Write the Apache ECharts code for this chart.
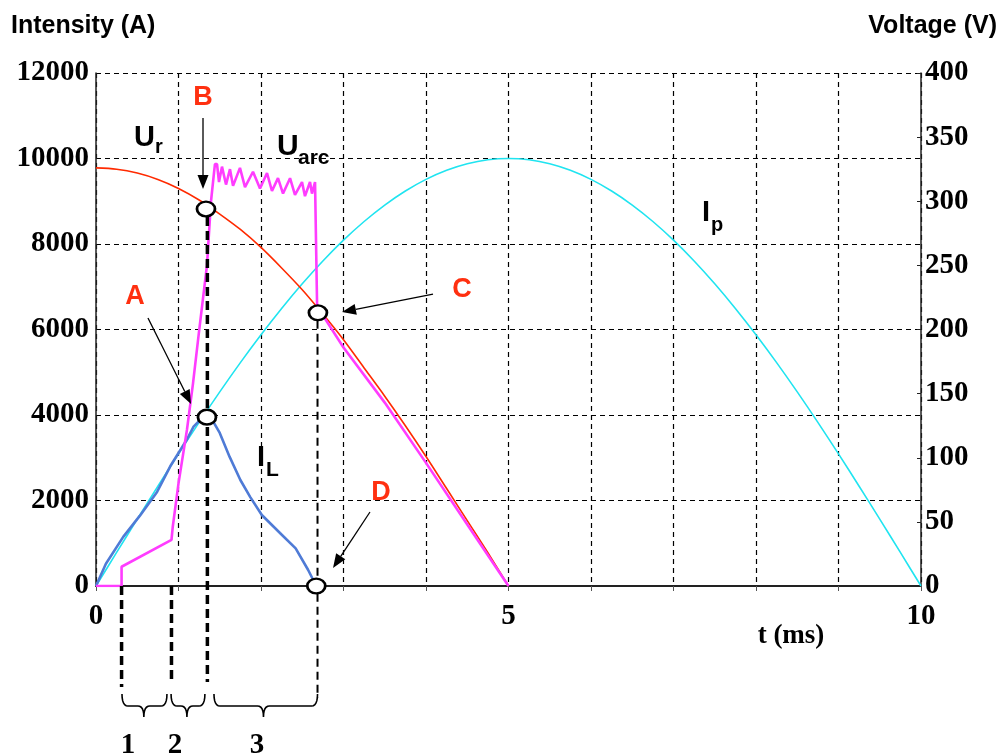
<!DOCTYPE html>
<html>
<head>
<meta charset="utf-8">
<title>Intensity and voltage during arc interruption</title>
<script src="https://cdn.jsdelivr.net/npm/echarts@6/dist/echarts.min.js"></script>
<style>
  html, body { margin: 0; padding: 0; background: #fff; }
  #chart { width: 1002px; height: 753px; }
</style>
</head>
<body>
<div id="chart"></div>
<script>
// time in ms, intensity in A, voltage in V
var timeTicks = [0, 5, 10];
var intensityTicks = [0, 2000, 4000, 6000, 8000, 10000, 12000];
var voltageTicks = [0, 50, 100, 150, 200, 250, 300, 350, 400];

// prospective current Ip
var ipTime = [0, 0.25, 0.5, 0.75, 1, 1.25, 1.5, 1.75, 2, 2.25, 2.5, 2.75, 3, 3.25, 3.5, 3.75, 4, 4.25, 4.5, 4.75,
  5, 5.25, 5.5, 5.75, 6, 6.25, 6.5, 6.75, 7, 7.25, 7.5, 7.75, 8, 8.25, 8.5, 8.75, 9, 9.25, 9.5, 9.75, 10];
var ipValues = [0, 785, 1564, 2334, 3090, 3827, 4540, 5225, 5878, 6494, 7071, 7604, 8090, 8526, 8910, 9239, 9511, 9724, 9877, 9969,
  10000, 9969, 9877, 9724, 9511, 9239, 8910, 8526, 8090, 7604, 7071, 6494, 5878, 5225, 4540, 3827, 3090, 2334, 1564, 785, 0];

// network voltage Ur
var urTime = [0, 0.25, 0.5, 0.75, 1, 1.25, 1.5, 1.75, 2, 2.25, 2.5, 2.75, 3, 3.25, 3.5, 3.75, 4, 4.25, 4.5, 4.75, 5];
var urValues = [326, 325, 322, 317, 310, 301, 290, 278, 264, 248, 231, 212, 192, 170, 148, 125, 101, 76, 51, 26, 0];

// limited current IL
var ilTime = [0, 0.12, 0.33, 0.53, 0.74, 0.9, 1.1, 1.18, 1.26, 1.32, 1.36, 1.41, 1.5, 1.62, 1.75, 1.87, 2.01, 2.23, 2.42, 2.57, 2.67];
var ilValues = [0, 520, 1150, 1640, 2200, 2800, 3420, 3720, 3880, 3950, 3960, 3880, 3580, 3020, 2480, 2080, 1660, 1240, 880, 380, 0];

// arc voltage Uarc
var uarcTime = [0, 0.31, 0.31, 0.915, 0.93, 1.0, 1.103, 1.176, 1.248, 1.345, 1.394, 1.43, 1.442, 1.467, 1.491, 1.527, 1.576,
  1.624, 1.661, 1.745, 1.806, 1.903, 1.988, 2.073, 2.133, 2.206, 2.267, 2.352, 2.412, 2.497, 2.533, 2.594, 2.618, 2.655,
  2.672, 2.68, 3.0, 3.5, 4.0, 4.5, 5.0];
var uarcValues = [0, 0, 15, 36, 46, 80, 122, 158, 198, 250, 300, 322, 329, 329, 315, 327, 313,
  325, 312, 326, 311, 323, 310, 322, 308, 318, 306, 318, 305, 315, 304, 315, 306, 315,
  315, 218, 186, 143, 96, 48, 0];

function pairs(xs, ys) {
  var out = [];
  for (var i = 0; i < xs.length; i++) out.push([xs[i], ys[i]]);
  return out;
}

var tickFont = '"Liberation Serif", "Times New Roman", serif';
var sansFont = '"Liberation Sans", Arial, sans-serif';
var gridLine = { show: true, lineStyle: { color: '#000', type: [5, 4], width: 1.2 } };

var chart = echarts.init(document.getElementById('chart'));

chart.setOption({
  animation: false,
  backgroundColor: '#fff',
  grid: { left: 96, right: 81, top: 73, bottom: 167 },
  xAxis: {
    type: 'value',
    min: timeTicks[0],
    max: timeTicks[timeTicks.length - 1],
    interval: 1,
    axisLine: { lineStyle: { color: '#222', width: 2 } },
    axisTick: { show: true, length: 5, lineStyle: { color: '#555' } },
    axisLabel: {
      margin: 16,
      color: '#000',
      fontFamily: tickFont,
      fontWeight: 'bold',
      fontSize: 29,
      formatter: function (v) { return timeTicks.indexOf(v) >= 0 ? String(v) : ''; }
    },
    splitLine: gridLine
  },
  yAxis: [
    {
      type: 'value',
      min: intensityTicks[0],
      max: intensityTicks[intensityTicks.length - 1],
      interval: intensityTicks[1] - intensityTicks[0],
      axisLine: { show: true, lineStyle: { color: '#222', width: 1.5 } },
      axisTick: { show: false },
      axisLabel: {
        margin: 7, color: '#000', fontFamily: tickFont, fontWeight: 'bold', fontSize: 29,
        formatter: function (v) { return String(v); }
      },
      splitLine: gridLine
    },
    {
      type: 'value',
      min: voltageTicks[0],
      max: voltageTicks[voltageTicks.length - 1],
      interval: voltageTicks[1] - voltageTicks[0],
      position: 'right',
      axisLine: { show: true, lineStyle: { color: '#222', width: 1.5 } },
      axisTick: { show: true, inside: true, length: 4, lineStyle: { color: '#222' } },
      axisLabel: {
        margin: 4, color: '#000', fontFamily: tickFont, fontWeight: 'bold', fontSize: 29,
        formatter: function (v) { return String(v); }
      },
      splitLine: { show: false }
    }
  ],
  series: [
    {
      name: 'Ip', type: 'line', yAxisIndex: 0, showSymbol: false, z: 2, smooth: 0.3,
      data: pairs(ipTime, ipValues),
      lineStyle: { color: '#20e4f0', width: 1.6 }
    },
    {
      name: 'Ur', type: 'line', yAxisIndex: 1, showSymbol: false, z: 3, smooth: 0.3,
      data: pairs(urTime, urValues),
      lineStyle: { color: '#ff2a00', width: 1.6 }
    },
    {
      name: 'IL', type: 'line', yAxisIndex: 0, showSymbol: false, z: 4,
      data: pairs(ilTime, ilValues),
      lineStyle: { color: '#4f7bd6', width: 2.6 }
    },
    {
      name: 'Uarc', type: 'line', yAxisIndex: 1, showSymbol: false, z: 5,
      data: pairs(uarcTime, uarcValues),
      lineStyle: { color: '#ff3cff', width: 2.6 }
    }
  ]
});

// pixel helpers through the chart's own scales
function pI(t, v) { return chart.convertToPixel({ seriesIndex: 0 }, [t, v]); }
function pV(t, v) { return chart.convertToPixel({ seriesIndex: 1 }, [t, v]); }

function arrow(from, to) {
  var dx = to[0] - from[0], dy = to[1] - from[1];
  var len = Math.sqrt(dx * dx + dy * dy);
  var ux = dx / len, uy = dy / len;
  var hl = 14, hw = 5.5;
  var bx = to[0] - ux * hl, by = to[1] - uy * hl;
  return [
    { type: 'line', z: 20, shape: { x1: from[0], y1: from[1], x2: bx, y2: by }, style: { stroke: '#000', lineWidth: 1.3 } },
    { type: 'polygon', z: 20, shape: { points: [to, [bx - uy * hw, by + ux * hw], [bx + uy * hw, by - ux * hw]] }, style: { fill: '#000' } }
  ];
}

function ring(p) {
  return {
    type: 'circle', z: 25, x: p[0], y: p[1], scaleY: 0.82,
    shape: { cx: 0, cy: 0, r: 9 },
    style: { fill: '#fff', stroke: '#000', lineWidth: 2.8 }
  };
}

function dashDown(t, topPt, yEnd, w) {
  var x = pI(t, 0)[0];
  return { type: 'line', z: 15, shape: { x1: x, y1: topPt, x2: x, y2: yEnd }, style: { stroke: '#000', lineWidth: w, lineDash: w > 2.5 ? [9, 5] : [8, 5] } };
}

// quadratic curve sampled into points
function quad(p0, c, p1, pts) {
  for (var i = 0; i <= 6; i++) {
    var s = i / 6, a = (1 - s) * (1 - s), b = 2 * s * (1 - s), d = s * s;
    pts.push([a * p0[0] + b * c[0] + d * p1[0], a * p0[1] + b * c[1] + d * p1[1]]);
  }
}

function brace(t1, t2, tm) {
  var x1 = pI(t1, 0)[0], x2 = pI(t2, 0)[0], xm = pI(tm, 0)[0];
  var y0 = 694, y1 = 706, y2 = 717, r = 6;
  var pts = [];
  quad([x1, y0], [x1, y1], [x1 + r, y1], pts);
  quad([xm - r, y1], [xm, y1], [xm, y2], pts);
  quad([xm, y2], [xm, y1], [xm + r, y1], pts);
  quad([x2 - r, y1], [x2, y1], [x2, y0], pts);
  return { type: 'polyline', z: 15, shape: { points: pts }, style: { fill: null, stroke: '#000', lineWidth: 1.6 } };
}

function label(text, x, y, size, opts) {
  opts = opts || {};
  return {
    type: 'text', z: 30, x: x, y: y,
    style: {
      text: text,
      fill: opts.color || '#000',
      font: 'bold ' + size + 'px ' + (opts.serif ? tickFont : sansFont),
      align: opts.align || 'left',
      verticalAlign: 'middle'
    }
  };
}

var ptA = pI(1.345, 3950);
var ptB = pV(1.333, 294);
var ptC = pV(2.69, 213);
var ptD = pI(2.67, 0);
var red = '#ff3010';

var g = [];
g.push(dashDown(0.31, ptD[1], 687, 3.5));
g.push(dashDown(0.915, ptD[1], 681, 3.5));
g.push(dashDown(1.35, ptB[1] + 8, 682, 3.5));
g.push(dashDown(2.685, ptC[1] + 8, 698, 2));
g.push(brace(0.315, 0.86, 0.58));
g.push(brace(0.91, 1.32, 1.102));
g.push(brace(1.43, 2.685, 2.03));
g = g.concat(arrow(pI(0.63, 6269), pI(1.152, 4257)));
g = g.concat(arrow(pI(1.297, 10947), pI(1.297, 9287)));
g = g.concat(arrow(pI(4.085, 6830), pI(2.982, 6409)));
g = g.concat(arrow(pI(3.321, 1731), pI(2.873, 421)));
g.push(ring(ptA), ring(ptB), ring(ptC), ring(ptD));

g.push(label('Intensity (A)', 11, 26, 25));
g.push(label('Voltage (V)', 997, 26, 25, { align: 'right' }));
g.push(label('t (ms)', 791, 636, 27, { serif: true, align: 'center' }));
g.push(label('1', 128, 746, 29, { serif: true, align: 'center' }));
g.push(label('2', 175, 746, 29, { serif: true, align: 'center' }));
g.push(label('3', 257, 746, 29, { serif: true, align: 'center' }));

g.push(label('A', 135, 297, 27, { color: red, align: 'center' }));
g.push(label('B', 203, 98, 27, { color: red, align: 'center' }));
g.push(label('C', 462, 290, 27, { color: red, align: 'center' }));
g.push(label('D', 381, 493, 27, { color: red, align: 'center' }));

g.push(label('U', 134, 138, 29), label('r', 155, 147, 20));
g.push(label('U', 277, 147, 30), label('arc', 298, 158, 21));
g.push(label('I', 702, 213, 29), label('p', 711, 225, 20));
g.push(label('I', 257, 458, 29), label('L', 266, 470, 21));

chart.setOption({ graphic: g });
</script>
</body>
</html>
